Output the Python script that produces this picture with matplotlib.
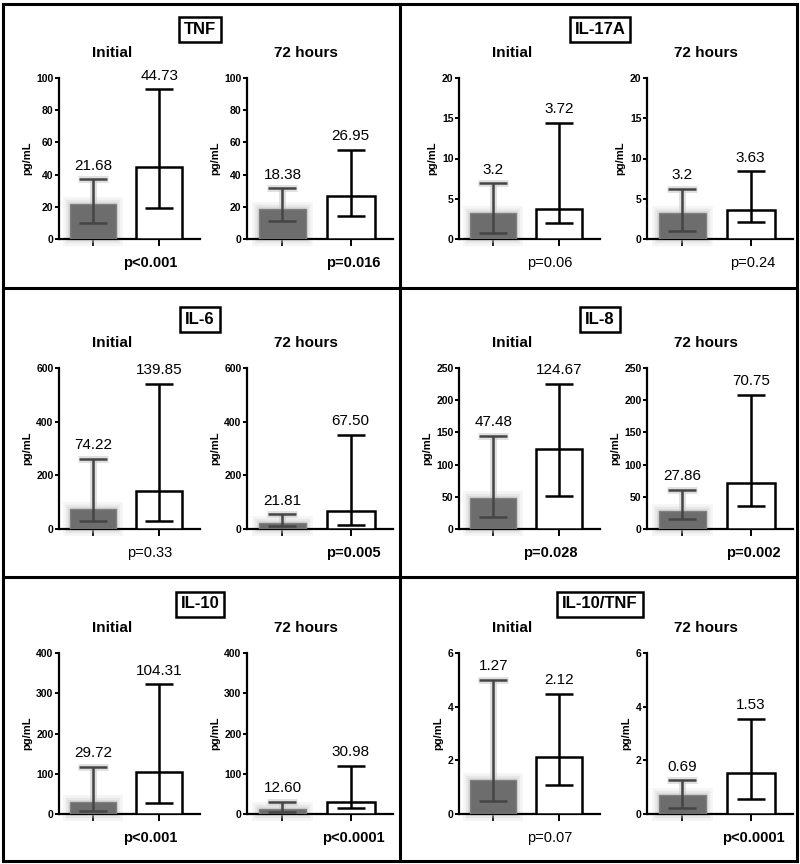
import matplotlib
matplotlib.use("Agg")
import matplotlib.pyplot as plt
from matplotlib.lines import Line2D

plt.rcParams['font.family'] = ['Liberation Sans', 'DejaVu Sans']

# ---------------- data ----------------
cytokines = ["TNF", "IL-17A", "IL-6", "IL-8", "IL-10", "IL-10/TNF"]
y_max = [100, 20, 600, 250, 400, 6]
y_step = [20, 5, 200, 50, 100, 2]

# Initial: gray bar (group 1) and white bar (group 2)
init_gray = [21.68, 3.2, 74.22, 47.48, 29.72, 1.27]
init_gray_lo = [10, 0.7, 30, 19, 8, 0.5]
init_gray_hi = [37, 6.9, 262, 145, 118, 5.0]
init_white = [44.73, 3.72, 139.85, 124.67, 104.31, 2.12]
init_white_lo = [19, 2.0, 28, 52, 28, 1.08]
init_white_hi = [93, 14.4, 540, 225, 322, 4.48]
init_gray_lbl = ["21.68", "3.2", "74.22", "47.48", "29.72", "1.27"]
init_white_lbl = ["44.73", "3.72", "139.85", "124.67", "104.31", "2.12"]

# 72 hours
h72_gray = [18.38, 3.2, 21.81, 27.86, 12.60, 0.69]
h72_gray_lo = [11, 1.0, 10, 16, 5, 0.22]
h72_gray_hi = [31.5, 6.2, 55, 61, 30, 1.25]
h72_white = [26.95, 3.63, 67.50, 70.75, 30.98, 1.53]
h72_white_lo = [14, 2.1, 15, 35, 15, 0.55]
h72_white_hi = [55.5, 8.4, 350, 208, 120, 3.55]
h72_gray_lbl = ["18.38", "3.2", "21.81", "27.86", "12.60", "0.69"]
h72_white_lbl = ["26.95", "3.63", "67.50", "70.75", "30.98", "1.53"]

p_init = ["p<0.001", "p=0.06", "p=0.33", "p=0.028", "p<0.001", "p=0.07"]
p_init_bold = [True, False, False, True, True, False]
p_72 = ["p=0.016", "p=0.24", "p=0.005", "p=0.002", "p<0.0001", "p<0.0001"]
p_72_bold = [True, False, True, True, True, True]

sub_titles = ["Initial", "72 hours"]

# ---------------- layout ----------------
W, H = 800, 864
fig = plt.figure(figsize=(8, 8.64), dpi=100)
fig.patch.set_facecolor("white")


def ax_at(x0, y0, x1, y1):
    return fig.add_axes([x0 / W, 1 - y1 / H, (x1 - x0) / W, (y1 - y0) / H])


def fx(x):
    return x / W


def fy(y):
    return 1 - y / H


GRAY = "#6d6d6d"
GRAY_ERR = "#454545"
HALO = "#cccccc"


def draw_sub(ax, ymax, step, g, glo, ghi, w, wlo, whi, glbl, wlbl):
    ax.set_xlim(-0.52, 1.62)
    ax.set_ylim(0, ymax)
    bw = 0.7
    # soft halo around gray bar
    for lw_, a_ in [(10, 0.18), (6, 0.3), (3, 0.45)]:
        ax.bar(0, g, width=bw, color=GRAY, edgecolor=HALO, linewidth=lw_,
               alpha=a_, zorder=2, clip_on=False)
    ax.bar(0, g, width=bw, color=GRAY, edgecolor="#808080", linewidth=1.0, zorder=3)
    ax.bar(1, w, width=bw, color="white", edgecolor="black", linewidth=1.8, zorder=3)
    # error bars (gray halo sits behind the bar)
    ax.errorbar([0], [g], yerr=[[g - glo], [ghi - g]], fmt="none", ecolor=HALO,
                elinewidth=5, capsize=10.5, capthick=5, zorder=2.5, alpha=0.6)
    ax.errorbar([0], [g], yerr=[[g - glo], [ghi - g]], fmt="none", ecolor=GRAY_ERR,
                elinewidth=1.8, capsize=10, capthick=1.8, zorder=4)
    ax.errorbar([1], [w], yerr=[[w - wlo], [whi - w]], fmt="none", ecolor="black",
                elinewidth=1.8, capsize=10, capthick=1.8, zorder=4)
    # value labels
    for xc, top, lbl in [(0, ghi, glbl), (1, whi, wlbl)]:
        ax.annotate(lbl, (xc, top), xytext=(0, 7), textcoords="offset points",
                    ha="center", va="baseline", fontsize=11, annotation_clip=False)
    # axes style
    for s in ["top", "right"]:
        ax.spines[s].set_visible(False)
    for s in ["left", "bottom"]:
        ax.spines[s].set_linewidth(1.6)
    ax.set_yticks([step * k for k in range(int(round(ymax / step)) + 1)])
    ax.set_xticks([0, 1])
    ax.set_xticklabels([])
    ax.tick_params(axis="y", length=3, width=1.4, labelsize=7.5, pad=1)
    ax.tick_params(axis="x", length=5, width=1.4)
    for t in ax.get_yticklabels():
        t.set_fontweight("bold")
    ax.set_ylabel("pg/mL", fontsize=8, fontweight="bold", labelpad=3)
    ax.patch.set_alpha(0)


panel_x = [0, 400]
panel_y = [0, 290, 575]

for i, name in enumerate(cytokines):
    px = panel_x[i % 2]
    py = panel_y[i // 2]
    ax1 = ax_at(px + 59, py + 78, px + 200, py + 239)
    ax2 = ax_at(px + 247, py + 78, px + 393, py + 239)
    draw_sub(ax1, y_max[i], y_step[i], init_gray[i], init_gray_lo[i], init_gray_hi[i],
             init_white[i], init_white_lo[i], init_white_hi[i],
             init_gray_lbl[i], init_white_lbl[i])
    draw_sub(ax2, y_max[i], y_step[i], h72_gray[i], h72_gray_lo[i], h72_gray_hi[i],
             h72_white[i], h72_white_lo[i], h72_white_hi[i],
             h72_gray_lbl[i], h72_white_lbl[i])
    # titles
    fig.text(fx(px + 200), fy(py + 29), name, ha="center", va="center",
             fontsize=12, fontweight="bold",
             bbox=dict(boxstyle="square,pad=0.3", fc="white", ec="black", lw=1.8))
    fig.text(fx(px + 112), fy(py + 53), sub_titles[0], ha="center", va="center",
             fontsize=11, fontweight="bold")
    fig.text(fx(px + 306), fy(py + 53), sub_titles[1], ha="center", va="center",
             fontsize=11, fontweight="bold")
    # p-values
    fig.text(fx(px + 150), fy(py + 263), p_init[i], ha="center", va="center",
             fontsize=10.5, fontweight="bold" if p_init_bold[i] else "normal")
    fig.text(fx(px + 353), fy(py + 263), p_72[i], ha="center", va="center",
             fontsize=10.5, fontweight="bold" if p_72_bold[i] else "normal")

# panel borders
blw = 2.2
L, R, T, B = 3, 797, 4, 861
for (x0, y0, x1, y1) in [(L, T, R, T), (L, B, R, B), (L, T, L, B), (R, T, R, B),
                         (400, T, 400, B), (L, 288, R, 288), (L, 577, R, 577)]:
    fig.add_artist(Line2D([fx(x0), fx(x1)], [fy(y0), fy(y1)], color="black",
                          lw=blw, transform=fig.transFigure))

fig.savefig("out.png", dpi=100)
